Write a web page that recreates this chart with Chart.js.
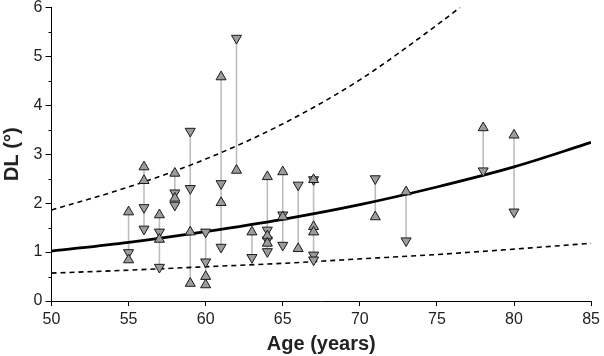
<!DOCTYPE html>
<html>
<head>
<meta charset="utf-8">
<script src="https://cdn.jsdelivr.net/npm/chart.js@4.4.1/dist/chart.umd.min.js"></script>
<style>
  html, body { margin: 0; padding: 0; background: #fff; }
  #wrap { width: 604px; height: 356px; }
</style>
</head>
<body>
<div id="wrap"><canvas id="chart"></canvas></div>
<script>
// paired measurements: gray line from top to bottom value at each age
const pairAges   = [55, 56, 57, 58, 59, 60, 61, 62, 63, 64, 65, 66, 67, 71, 73, 78, 80];
const pairTop    = [1.82, 2.74, 1.76, 2.61, 3.47, 1.41, 4.58, 5.37, 1.41, 2.54, 2.64, 2.37, 2.48, 2.50, 2.23, 3.54, 3.39];
const pairBottom = [0.84, 1.47, 0.69, 1.96, 0.36, 0.33, 1.10, 2.67, 0.89, 1.01, 1.14, 1.07, 0.84, 1.72, 1.23, 2.66, 1.82];

// upward triangles
const upAges = [55, 55, 56, 56, 57, 57, 58, 58, 59, 59, 60, 60, 61, 61, 62, 63, 64, 64, 64, 65, 65, 66, 67, 67, 67, 71, 73, 78, 80];
const upVals = [1.82, 0.84, 2.74, 2.46, 1.76, 1.26, 2.61, 2.10, 1.41, 0.36, 0.50, 0.33, 4.58, 2.01, 2.67, 1.41, 2.54, 1.33, 1.18, 2.64, 1.72, 1.07, 2.48, 1.52, 1.41, 1.72, 2.23, 3.54, 3.39];

// downward triangles
const downAges = [55, 56, 56, 57, 57, 58, 58, 59, 59, 60, 60, 61, 61, 62, 63, 64, 64, 64, 65, 65, 66, 67, 67, 67, 71, 73, 78, 80];
const downVals = [0.99, 1.91, 1.47, 1.41, 0.69, 2.21, 1.96, 3.47, 2.30, 1.41, 0.80, 2.40, 1.10, 5.37, 0.89, 1.45, 1.25, 1.01, 1.76, 1.14, 2.37, 2.48, 0.94, 0.84, 2.50, 1.23, 2.66, 1.82];

// fitted curve and bounds
const fitAges = [50, 55, 60, 65, 70, 75, 80, 85];
const fitVals = [1.02, 1.20, 1.42, 1.67, 1.97, 2.33, 2.74, 3.24];
const upperAges = [50, 55, 60, 65, 70, 75, 76.5];
const upperVals = [1.86, 2.33, 2.90, 3.62, 4.52, 5.64, 6.0];
const lowerAges = [50, 55, 60, 65, 70, 75, 80, 85];
const lowerVals = [0.57, 0.63, 0.70, 0.77, 0.86, 0.95, 1.06, 1.18];

const xTicks = [50, 55, 60, 65, 70, 75, 80, 85];
const yTicks = [0, 1, 2, 3, 4, 5, 6];

const xy = (xs, ys) => xs.map((x, i) => ({ x: x, y: ys[i] }));

const pairPoints = [];
pairAges.forEach((a, i) => {
    pairPoints.push({ x: a, y: pairTop[i] }, { x: a, y: pairBottom[i] }, { x: a, y: null });
});

const markerFill = '#9c9c9c';
const markerEdge = '#1a1a1a';

// short minor ticks on the y axis, halfway between labels
const minorTicks = {
    id: 'minorTicks',
    afterDraw(chart) {
        const y = chart.scales.y;
        const ctx = chart.ctx;
        ctx.save();
        ctx.strokeStyle = '#000';
        ctx.lineWidth = 1;
        for (let i = 0; i < yTicks.length - 1; i++) {
            const py = Math.round(y.getPixelForValue((yTicks[i] + yTicks[i + 1]) / 2)) + 0.5;
            ctx.beginPath();
            ctx.moveTo(y.right - 3, py);
            ctx.lineTo(y.right, py);
            ctx.stroke();
        }
        ctx.restore();
    }
};

new Chart(document.getElementById('chart').getContext('2d'), {
    type: 'scatter',
    data: {
        datasets: [
            {
                type: 'line',
                data: xy(upperAges, upperVals),
                borderColor: '#000',
                borderWidth: 1.6,
                borderDash: [5, 4],
                pointRadius: 0,
                cubicInterpolationMode: 'monotone',
                order: 1
            },
            {
                type: 'line',
                data: xy(lowerAges, lowerVals),
                borderColor: '#000',
                borderWidth: 1.6,
                borderDash: [5, 4],
                pointRadius: 0,
                cubicInterpolationMode: 'monotone',
                order: 1
            },
            {
                type: 'line',
                data: xy(fitAges, fitVals),
                borderColor: '#000',
                borderWidth: 2.8,
                pointRadius: 0,
                cubicInterpolationMode: 'monotone',
                order: 1
            },
            {
                type: 'line',
                data: pairPoints,
                borderColor: '#bdbdbd',
                borderWidth: 1.6,
                pointRadius: 0,
                spanGaps: false,
                order: 2
            },
            {
                data: xy(upAges, upVals),
                pointStyle: 'triangle',
                pointRadius: 5.8,
                backgroundColor: markerFill,
                borderColor: markerEdge,
                borderWidth: 1,
                order: 0
            },
            {
                data: xy(downAges, downVals),
                pointStyle: 'triangle',
                rotation: 180,
                pointRadius: 5.8,
                backgroundColor: markerFill,
                borderColor: markerEdge,
                borderWidth: 1,
                order: 0
            }
        ]
    },
    options: {
        responsive: true,
        maintainAspectRatio: false,
        animation: false,
        events: [],
        layout: {
            padding: { top: 0, right: 0, left: 0, bottom: 0 }
        },
        plugins: {
            legend: { display: false },
            tooltip: { enabled: false }
        },
        scales: {
            x: {
                type: 'linear',
                min: 50,
                max: 85,
                afterBuildTicks: (s) => { s.ticks = xTicks.map(v => ({ value: v })); },
                afterFit: (s) => { s.height = 55; },
                grid: { drawOnChartArea: false, drawTicks: true, tickLength: 5, color: '#000' },
                border: { display: true, color: '#000', width: 1 },
                ticks: {
                    color: '#222',
                    padding: 4,
                    maxRotation: 0,
                    font: { family: 'Liberation Sans', size: 16 }
                },
                title: {
                    display: true,
                    text: 'Age (years)',
                    color: '#222',
                    padding: { top: 2, bottom: 0 },
                    font: { family: 'Liberation Sans', size: 20, weight: 'bold' }
                }
            },
            y: {
                min: 0,
                max: 6,
                afterBuildTicks: (s) => { s.ticks = yTicks.map(v => ({ value: v })); },
                afterFit: (s) => { s.width = 51.5; },
                grid: { drawOnChartArea: false, drawTicks: true, tickLength: 6, color: '#000' },
                border: { display: true, color: '#000', width: 1 },
                ticks: {
                    color: '#222',
                    padding: 3,
                    font: { family: 'Liberation Sans', size: 16, lineHeight: 0.55 }
                },
                title: {
                    display: true,
                    text: 'DL (°)',
                    color: '#222',
                    padding: { top: 0, bottom: 5 },
                    font: { family: 'Liberation Sans', size: 20, weight: 'bold' }
                }
            }
        }
    },
    plugins: [minorTicks]
});
</script>
</body>
</html>
